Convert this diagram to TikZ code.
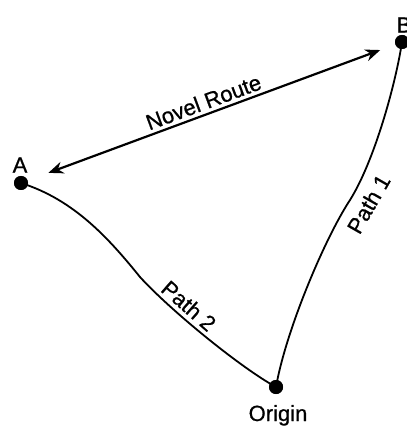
\documentclass[tikz,border=0pt]{standalone}
\usepackage{fontspec}
\setmainfont{Liberation Sans}
\newfontfamily\mapfont{Liberation Sans}[FakeBold=0.8]
\usetikzlibrary{arrows.meta}
\tikzset{
  every picture/.style={
    line join=round,
    line cap=round,
    >=Stealth,
  },
  waypoint/.style={circle, fill=black, inner sep=0pt, minimum size=14pt},
  placename/.style={font=\mapfont\fontsize{22}{26}\selectfont, inner sep=0pt},
  routelabel/.style={font=\mapfont\fontsize{22}{26}\selectfont, sloped},
  route/.style={line width=1.8pt},
  novel/.style={line width=2.2pt, <->, >={Stealth[length=15pt, width=12pt]}},
}

\begin{document}
\begin{tikzpicture}[x=1pt, y=-1pt]
\useasboundingbox (0,0) rectangle (406,427);
% places
\node[waypoint] (A) at (21,183) {};
\node[waypoint] (B) at (402,42) {};
\node[waypoint] (O) at (276,387) {};
\node[placename] (Atext) at (20,165) {A};
\node[placename] (Btext) at (404,25) {B};
\node[placename, anchor=base] (Otext) at (278,421) {Origin};
% the two known paths
\draw[route] (A.center) .. controls (75,200) and (110,240) .. (140,277)
  .. controls (170,310) and (241,368) .. node[routelabel, pos=0.33, above, inner sep=4pt] {Path 2} (O.center);
\draw[route] (O.center) .. controls (286,330) and (325,238) .. (350,200)
  .. controls (375,160) and (396,82) .. node[routelabel, pos=0.04, below, inner sep=9pt] {Path 1} (B.center);
% the shortcut
\draw[novel, shorten <=22pt, shorten >=16pt] (A) -- node[routelabel, pos=0.49, above] {Novel Route} (B);
% dots on top
\foreach \p in {A,B,O}
  \fill (\p) circle (7pt);
\end{tikzpicture}
\end{document}
